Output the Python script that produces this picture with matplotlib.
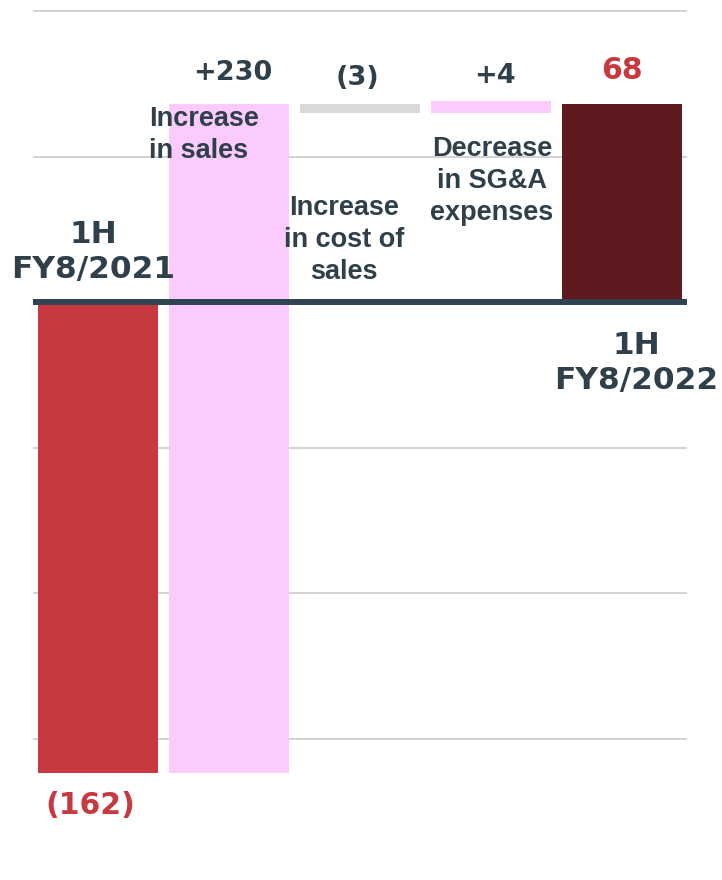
import matplotlib
matplotlib.use("Agg")
import matplotlib.pyplot as plt
import numpy as np

# Operating income bridge, 1H FY8/2021 -> 1H FY8/2022
start_value = -162
deltas = [230, -3, 4]
end_value = 68
delta_names = ["Increase\nin sales", "Increase\nin cost of\nsales", "Decrease\nin SG&A\nexpenses"]
period_names = ["1H\nFY8/2021", "1H\nFY8/2022"]
gridlines = [100, 50, -50, -100, -150]

RED = "#c8393f"
PINK = "#fccbfd"
GREY = "#d9d9d9"
MAROON = "#5e1a1e"
INK = "#2f404b"

fig = plt.figure(figsize=(7.22, 8.80), dpi=100)
ax = fig.add_axes([33 / 722, 0, 654 / 722, 1])
ax.set_xlim(-0.5, 4.5)
ax.set_ylim(-198.6, 103.8)
ax.axis("off")

for g in gridlines:
    ax.axhline(g, color="#d0d0d0", lw=1.3, zorder=0)

# running total for the floating bars
bottoms = []
level = start_value
for d in deltas:
    bottoms.append(level if d > 0 else level + d)
    level += d

w = 0.916
ax.bar(0, start_value, width=w, color=RED, zorder=2)
ax.bar(1, deltas[0], bottom=bottoms[0], width=w, color=PINK, zorder=1)
ax.bar(2, abs(deltas[1]), bottom=bottoms[1], width=w, color=GREY, zorder=1)
ax.bar(3, deltas[2], bottom=bottoms[2], width=w, color=PINK, zorder=1)
ax.bar(4, end_value, width=w, color=MAROON, zorder=2)

ax.axhline(0, color="#2e4450", lw=4.3, zorder=3)

def fmt(v):
    return "+{}".format(v) if v > 0 else "({})".format(-v)

num_font = dict(family="DejaVu Sans", fontweight="bold", fontsize=19.5)
tot_font = dict(family="DejaVu Sans", fontweight="bold", fontsize=21.5)
lab_font = dict(family="Liberation Sans", fontweight="bold", fontsize=19.5)
per_font = dict(family="DejaVu Sans", fontweight="bold", fontsize=22.5)

# change labels above the bars
ax.text(1.03, 78.7, fmt(deltas[0]), ha="center", va="center", color=INK, zorder=5, **num_font)
ax.text(1.98, 77, fmt(deltas[1]), ha="center", va="center", color=INK, zorder=5, **num_font)
ax.text(3.03, 77.7, fmt(deltas[2]), ha="center", va="center", color=INK, zorder=5, **num_font)
ax.text(4.0, 79.7, str(end_value), ha="center", va="center", color=RED, zorder=5, **tot_font)
ax.text(-0.065, -172.9, fmt(start_value), ha="center", va="center", color=RED, zorder=5, **tot_font)

# item descriptions
ax.text(0.385, 57.4, delta_names[0], ha="left", va="center", color=INK,
        linespacing=1.3, zorder=5, **lab_font)
ax.text(1.88, 21.3, delta_names[1], ha="center", va="center", color=INK,
        multialignment="center", linespacing=1.3, zorder=5, **lab_font)
ax.text(3.01, 41.6, delta_names[2], ha="center", va="center", color=INK,
        multialignment="center", linespacing=1.3, zorder=5, **lab_font)

ax.text(-0.04, 17.2, period_names[0], ha="center", va="center", color=INK,
        multialignment="center", linespacing=1.25, zorder=5, **per_font)
ax.text(4.11, -21, period_names[1], ha="center", va="center", color=INK,
        multialignment="center", linespacing=1.25, zorder=5, clip_on=False, **per_font)

fig.savefig("out.png", dpi=100)
